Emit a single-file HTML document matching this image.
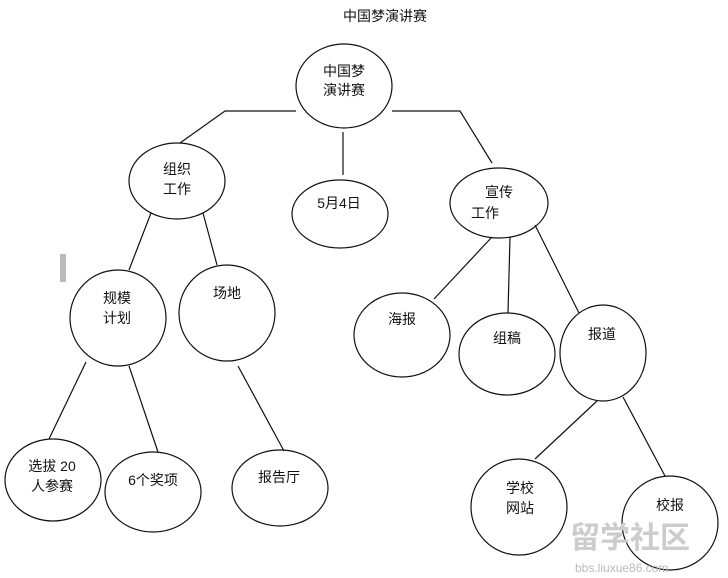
<!DOCTYPE html>
<html><head><meta charset="utf-8"><style>
html,body{margin:0;padding:0;background:#fff;}
svg{display:block;}
text{font-family:"Liberation Sans","Noto Sans CJK SC",sans-serif;font-size:14px;fill:#111;}
</style></head><body>
<svg width="728" height="578" viewBox="0 0 728 578" xmlns="http://www.w3.org/2000/svg">
<g fill="none" stroke="#111" stroke-width="1.2">
<ellipse cx="344" cy="86" rx="48" ry="42"/>
<ellipse cx="177" cy="181" rx="48" ry="38"/>
<ellipse cx="340" cy="214" rx="48" ry="34"/>
<ellipse cx="499" cy="203" rx="49" ry="35"/>
<ellipse cx="118" cy="318" rx="48" ry="48"/>
<ellipse cx="227" cy="313" rx="48" ry="48"/>
<ellipse cx="402" cy="335" rx="48" ry="42"/>
<ellipse cx="507" cy="354" rx="48" ry="41"/>
<ellipse cx="603" cy="353" rx="43" ry="48"/>
<ellipse cx="53" cy="480" rx="48" ry="41"/>
<ellipse cx="153" cy="492" rx="48" ry="40"/>
<ellipse cx="280" cy="488" rx="48" ry="38"/>
<ellipse cx="519" cy="507" rx="48" ry="48"/>
<ellipse cx="670" cy="523" rx="48" ry="47"/>
<polyline points="296,111 225,111 180,143"/>
<polyline points="392,111 460,111 492,163"/>
<line x1="343" y1="132" x2="343" y2="175"/>
<line x1="151" y1="213" x2="129" y2="270"/>
<line x1="203" y1="213" x2="217" y2="265"/>
<line x1="492" y1="237" x2="434" y2="299"/>
<line x1="510" y1="237" x2="508" y2="313"/>
<line x1="535" y1="225" x2="579" y2="313"/>
<line x1="86" y1="362" x2="49" y2="439"/>
<line x1="129" y1="366" x2="158" y2="452"/>
<line x1="238" y1="366" x2="284" y2="451"/>
<line x1="597" y1="401" x2="535" y2="459"/>
<line x1="623" y1="397" x2="665" y2="476"/>
</g>
<g text-anchor="middle" dominant-baseline="central">
<text x="385" y="16">中国梦演讲赛</text>
<text x="344" y="71">中国梦</text><text x="344" y="90">演讲赛</text>
<text x="177" y="169">组织</text><text x="177" y="189">工作</text>
<text x="339" y="203">5月4日</text>
<text x="499" y="192">宣传</text><text x="485" y="213">工作</text>
<text x="117" y="298">规模</text><text x="117" y="318">计划</text>
<text x="227" y="293">场地</text>
<text x="402" y="319">海报</text>
<text x="507" y="338">组稿</text>
<text x="602" y="334">报道</text>
<text x="52" y="466">选拔 20</text><text x="52" y="486">人参赛</text>
<text x="153" y="480">6个奖项</text>
<text x="279" y="477">报告厅</text>
<text x="520" y="488">学校</text><text x="520" y="508">网站</text>
<text x="670" y="505">校报</text>
</g>
<rect x="60" y="254" width="6" height="28" fill="#bbb"/>
<text x="570" y="548" style="font-size:30px;font-weight:bold;fill:#ccc">留学社区</text>
<text x="575" y="572" style="font-size:12px;fill:#bbb">bbs.liuxue86.com</text>
</svg>
</body></html>
